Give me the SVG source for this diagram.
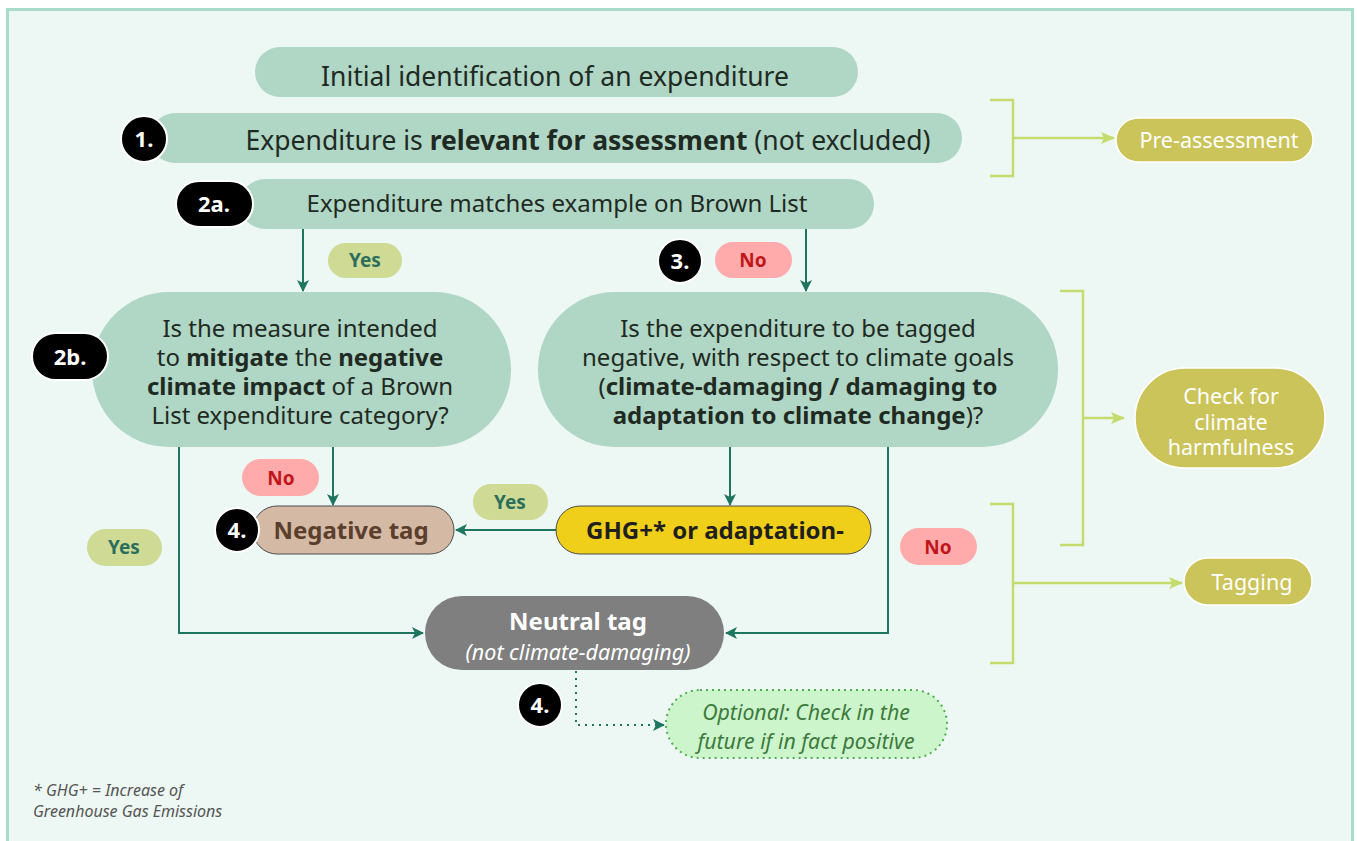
<svg xmlns="http://www.w3.org/2000/svg" width="1357" height="841" viewBox="0 0 1357 841">
<defs>
<marker id="ah" viewBox="0 0 12 12" refX="11" refY="6" markerWidth="12" markerHeight="12" markerUnits="userSpaceOnUse" orient="auto"><path d="M0,0 L12,6 L0,12 L3,6 Z" fill="#1e7560"/></marker>
<marker id="ahg" viewBox="0 0 14 12" refX="13" refY="6" markerWidth="14" markerHeight="12" markerUnits="userSpaceOnUse" orient="auto"><path d="M0,0 L14,6 L0,12 L3,6 Z" fill="#c6db6e"/></marker>
<style>
text{font-family:"Noto Sans","Open Sans","Liberation Sans",sans-serif;}
.box{fill:#b0d6c6;}
.t{fill:#1f2a22;text-anchor:middle;}
.b{font-weight:bold;}
.badge{fill:#000;stroke:#fff;stroke-width:2;}
.bt{fill:#fff;font-weight:bold;font-size:22px;text-anchor:middle;}
.yes{fill:#cfdb95;}
.yt{fill:#2b6e5c;font-weight:bold;font-size:19px;text-anchor:middle;}
.no{fill:#ffabab;}
.nt{fill:#c0161b;font-weight:bold;font-size:19px;text-anchor:middle;}
.con{fill:none;stroke:#1e7560;stroke-width:2;}
.br{fill:none;stroke:#c6db6e;stroke-width:2.5;}
.ph{fill:#cbc45a;stroke:#fff;stroke-width:1.5;}
.pt{fill:#fff;font-size:21.5px;text-anchor:middle;}
</style>
</defs>
<rect x="0" y="0" width="1357" height="841" fill="#ffffff"/>
<rect x="7.5" y="9.5" width="1345" height="840" fill="#edf7f3" stroke="#a9dccb" stroke-width="3"/>

<g id="connectors">
<line class="con" x1="303" y1="229" x2="303" y2="291" marker-end="url(#ah)"/>
<line class="con" x1="806" y1="229" x2="806" y2="291" marker-end="url(#ah)"/>
<line class="con" x1="333" y1="447" x2="333" y2="505" marker-end="url(#ah)"/>
<polyline class="con" points="179,447 179,633 423,633" marker-end="url(#ah)"/>
<line class="con" x1="730" y1="447" x2="730" y2="505" marker-end="url(#ah)"/>
<polyline class="con" points="888,447 888,633 726,633" marker-end="url(#ah)"/>
<line class="con" x1="556" y1="530" x2="456" y2="530" marker-end="url(#ah)"/>
<polyline class="con" points="576,671 576,725 664,725" stroke-dasharray="2,5" marker-end="url(#ah)"/>
<polyline class="br" points="990,100 1013,100 1013,176 990,176"/>
<line class="br" x1="1013" y1="138" x2="1114" y2="138" marker-end="url(#ahg)"/>
<polyline class="br" points="1060,291 1083,291 1083,545 1060,545"/>
<line class="br" x1="1083" y1="418" x2="1124" y2="418" marker-end="url(#ahg)"/>
<polyline class="br" points="990,504 1013,504 1013,663 990,663"/>
<line class="br" x1="1013" y1="583" x2="1182" y2="583" marker-end="url(#ahg)"/>
</g>

<g id="initial">
<rect class="box" x="255" y="47" width="603" height="50" rx="25"/>
<text class="t" x="555" y="86" font-size="26.5">Initial identification of an expenditure</text>
</g>

<g id="step1">
<rect class="box" x="150" y="113" width="812" height="50" rx="25"/>
<text class="t" x="588" y="150" font-size="26.5">Expenditure is <tspan class="b">relevant for assessment</tspan> (not excluded)</text>
<circle class="badge" cx="144" cy="139" r="23"/>
<text class="bt" x="144" y="147">1.</text>
</g>

<g id="step2a">
<rect class="box" x="240" y="179" width="634" height="50" rx="25"/>
<text class="t" x="557" y="212" font-size="24">Expenditure matches example on Brown List</text>
<rect class="badge" x="176" y="181" width="77" height="46" rx="23"/>
<text class="bt" x="214" y="212">2a.</text>
</g>

<g id="yes1"><rect class="yes" x="328" y="243" width="74" height="35" rx="17.5"/><text class="yt" x="365" y="267">Yes</text></g>
<g id="step3badge"><circle class="badge" cx="680" cy="261" r="22"/><text class="bt" x="680" y="269">3.</text></g>
<g id="no1"><rect class="no" x="715" y="242" width="77" height="36" rx="18"/><text class="nt" x="753" y="267">No</text></g>

<g id="step2b">
<rect class="box" x="92" y="292" width="419" height="155" rx="77"/>
<text class="t" font-size="24"><tspan x="300" y="337">Is the measure intended</tspan><tspan x="300" y="366">to <tspan class="b">mitigate</tspan> the <tspan class="b">negative</tspan></tspan><tspan x="300" y="395"><tspan class="b">climate impact</tspan> of a Brown</tspan><tspan x="300" y="424">List expenditure category?</tspan></text>
<rect class="badge" x="32" y="333" width="76" height="47" rx="23.5"/>
<text class="bt" x="70" y="365">2b.</text>
</g>

<g id="question3">
<rect class="box" x="538" y="292" width="520" height="155" rx="77"/>
<text class="t" font-size="24"><tspan x="798" y="337">Is the expenditure to be tagged</tspan><tspan x="798" y="366">negative, with respect to climate goals</tspan><tspan x="798" y="395">(<tspan class="b">climate-damaging / damaging to</tspan></tspan><tspan x="798" y="424"><tspan class="b">adaptation to climate change</tspan>)?</tspan></text>
</g>

<g id="no2"><rect class="no" x="242" y="459" width="77" height="37" rx="18.5"/><text class="nt" x="281" y="485">No</text></g>
<g id="yes2"><rect class="yes" x="87" y="529" width="75" height="37" rx="18.5"/><text class="yt" x="124" y="554">Yes</text></g>
<g id="yes3"><rect class="yes" x="473" y="484" width="75" height="36" rx="18"/><text class="yt" x="510" y="509">Yes</text></g>
<g id="no3"><rect class="no" x="900" y="528" width="77" height="37" rx="18.5"/><text class="nt" x="938" y="554">No</text></g>

<g id="negative">
<rect x="253" y="506" width="201" height="48" rx="24" fill="#d4b9a5" stroke="#4d4d4d" stroke-width="1"/>
<text x="351" y="539" font-size="24" font-weight="bold" fill="#5b3f2c" text-anchor="middle">Negative tag</text>
<circle class="badge" cx="237" cy="530" r="22"/>
<text class="bt" x="237" y="538">4.</text>
</g>

<g id="ghg">
<rect x="556" y="506" width="315" height="48" rx="24" fill="#f0cf1a" stroke="#4d4d4d" stroke-width="1"/>
<text x="715" y="539" font-size="24" font-weight="bold" fill="#1f1f1f" text-anchor="middle">GHG+* or adaptation-</text>
</g>

<g id="neutral">
<rect x="425" y="596" width="299" height="74" rx="37" fill="#7f7f7f"/>
<text x="578" y="630" font-size="24" font-weight="bold" fill="#fff" text-anchor="middle">Neutral tag</text>
<text x="578" y="660" font-size="21.5" font-style="italic" fill="#fff" text-anchor="middle">(not climate-damaging)</text>
<circle class="badge" cx="540" cy="705" r="22"/>
<text class="bt" x="540" y="713">4.</text>
</g>

<g id="optional">
<rect x="666" y="690" width="281" height="68" rx="34" fill="#cdf5cc" stroke="#4fae4f" stroke-width="2" stroke-dasharray="2,4"/>
<text font-size="21.3" font-style="italic" fill="#3d7a3d" text-anchor="middle"><tspan x="806" y="720">Optional: Check in the</tspan><tspan x="806" y="749">future if in fact positive</tspan></text>
</g>

<g id="preassessment">
<rect class="ph" x="1116" y="118" width="197" height="44" rx="22"/>
<text class="pt" x="1219" y="148">Pre-assessment</text>
</g>

<g id="check">
<rect class="ph" x="1135" y="368" width="190" height="100" rx="50"/>
<text class="pt"><tspan x="1231" y="404">Check for</tspan><tspan x="1231" y="430">climate</tspan><tspan x="1231" y="455">harmfulness</tspan></text>
</g>

<g id="tagging">
<rect class="ph" x="1184" y="558" width="128" height="47" rx="23.5"/>
<text class="pt" x="1252" y="590">Tagging</text>
</g>

<g id="footnote">
<text font-size="16" font-style="italic" fill="#555"><tspan x="33" y="796">* GHG+ = Increase of</tspan><tspan x="33" y="817">Greenhouse Gas Emissions</tspan></text>
</g>
</svg>
